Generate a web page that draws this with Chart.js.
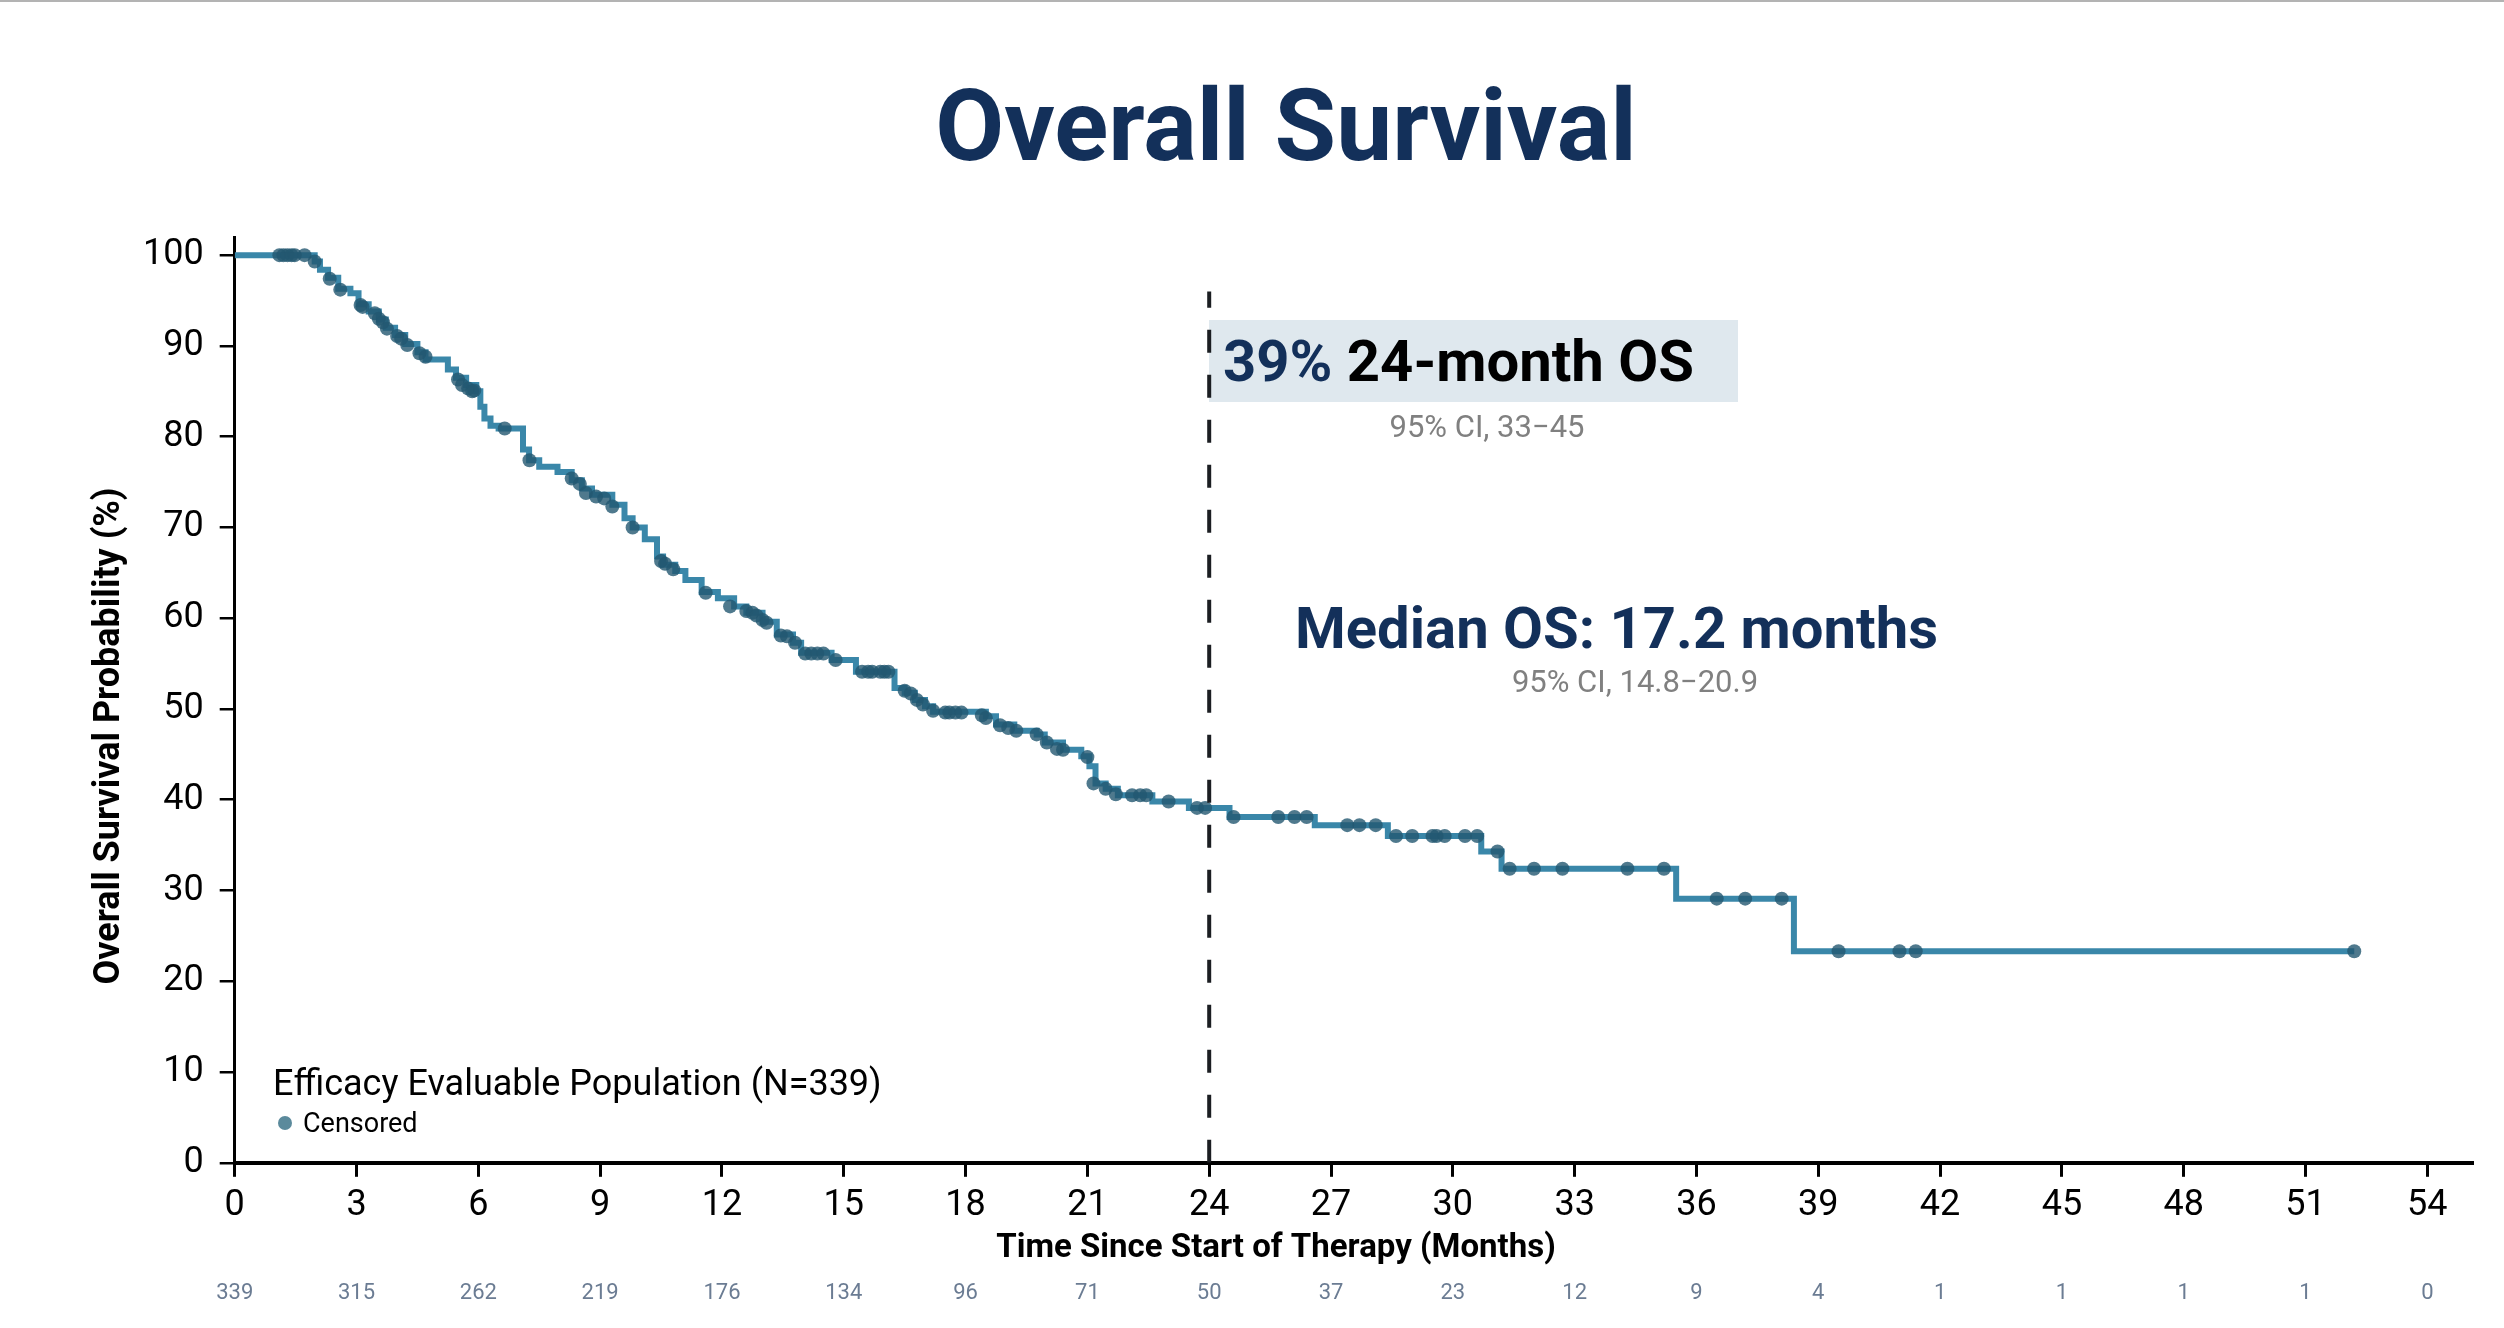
<!DOCTYPE html>
<html lang="en">
<head>
  <meta charset="UTF-8" />
  <title>Overall Survival</title>
  <script src="https://cdn.jsdelivr.net/npm/chart.js"></script>
  <style>
    html, body { margin: 0; padding: 0; background: #fff; }
    .wrap { position: relative; width: 2504px; height: 1328px; }
    .topline { position: absolute; left: 0; top: 0; width: 100%; height: 2px; background: #b3b3b3; }
  </style>
</head>
<body>
  <div class="wrap">
    <canvas id="osChart"></canvas>
    <div class="topline"></div>
  </div>

  <script>
    // Kaplan-Meier step points (months, % surviving after the drop)
    const stepTimes = [0, 1.97, 2.1, 2.3, 2.55, 2.85, 3.05, 3.3, 3.55, 3.72, 3.95, 4.2, 4.5, 4.7, 5.25, 5.45, 5.7, 5.95,
      6.05, 6.15, 6.3, 6.5, 7.1, 7.25, 7.5, 7.95, 8.3, 8.55, 8.8, 9.3, 9.6, 9.8, 10.1, 10.4, 10.55, 10.85, 11.1, 11.5,
      11.9, 12.3, 12.6, 13.0, 13.35, 13.75, 13.95, 14.7, 15.3, 16.25, 16.5, 16.75, 17.0, 17.2, 18.5, 18.75, 19.2, 19.75,
      19.95, 20.4, 20.85, 21.05, 21.2, 21.45, 21.75, 22.6, 23.5, 24.5, 26.6, 28.4, 30.7, 31.2, 35.5, 38.4, 52.2];
    const stepSurv = [100, 99.3, 98.4, 97.5, 96.3, 95.8, 94.6, 93.8, 92.9, 92.0, 91.2, 90.2, 89.3, 88.5, 87.4, 86.5, 85.7, 85.0,
      83.3, 82.0, 81.2, 80.9, 78.6, 77.4, 76.7, 76.1, 75.2, 74.3, 73.6, 72.5, 71.0, 70.0, 68.7, 66.8, 65.9, 65.2, 64.2, 62.9,
      62.2, 61.3, 60.6, 59.6, 58.2, 57.3, 56.2, 55.4, 54.1, 52.3, 51.8, 51.0, 50.3, 49.7, 49.2, 48.3, 47.6, 47.2,
      46.3, 45.5, 44.8, 43.7, 41.8, 41.2, 40.5, 39.8, 39.1, 38.1, 37.2, 36.0, 34.3, 32.4, 29.1, 23.3, 23.3];

    // censored observations
    const censorTimes = [1.1, 1.2, 1.3, 1.4, 1.48, 1.72, 1.97, 2.34, 2.6, 3.1, 3.15, 3.45, 3.55, 3.65, 3.75, 4.0, 4.1, 4.25,
      4.55, 4.7, 5.5, 5.6, 5.75, 5.85, 5.9, 6.65, 7.26, 8.3, 8.5, 8.65, 8.9, 9.1, 9.3, 9.8, 10.5, 10.6, 10.8, 11.6, 12.2,
      12.6, 12.75, 12.85, 13.0, 13.1, 13.45, 13.6, 13.8, 14.05, 14.2, 14.35, 14.5, 14.8, 15.45, 15.6, 15.7, 15.9, 16.0,
      16.1, 16.5, 16.65, 16.8, 16.95, 17.2, 17.5, 17.6, 17.75, 17.9, 18.4, 18.5, 18.85, 19.05, 19.25, 19.75, 20.0, 20.25,
      20.4, 21.0, 21.15, 21.45, 21.7, 22.1, 22.3, 22.45, 23.0, 23.7, 23.9, 24.6, 25.7, 26.1, 26.4, 27.4, 27.7, 28.1, 28.6,
      29.0, 29.5, 29.6, 29.8, 30.3, 30.6, 31.1, 31.4, 32.0, 32.7, 34.3, 35.2, 36.5, 37.2, 38.1, 39.5, 41.0, 41.4, 52.2];
    const censorSurv = [100, 100, 100, 100, 100, 100, 99.3, 97.4, 96.2, 94.5, 94.3, 93.6, 93.0, 92.6, 91.9, 91.1, 90.8, 90.1,
      89.2, 88.8, 86.3, 85.7, 85.3, 85.0, 85.1, 80.9, 77.4, 75.4, 74.8, 73.8, 73.4, 73.2, 72.3, 70.0, 66.3, 66.0, 65.4, 62.8, 61.3,
      60.8, 60.6, 60.3, 59.8, 59.5, 58.1, 58.0, 57.3, 56.1, 56.1, 56.1, 56.1, 55.4, 54.1, 54.1, 54.1, 54.1, 54.1,
      54.1, 52.0, 51.7, 51.0, 50.5, 49.8, 49.6, 49.6, 49.6, 49.6, 49.3, 49.0, 48.2, 47.9, 47.6, 47.2, 46.3, 45.6,
      45.5, 44.7, 41.8, 41.2, 40.6, 40.5, 40.5, 40.5, 39.8, 39.1, 39.1, 38.1, 38.1, 38.1, 38.1, 37.2, 37.2, 37.2, 36.0,
      36.0, 36.0, 36.0, 36.0, 36.0, 36.0, 34.3, 32.4, 32.4, 32.4, 32.4, 32.4, 29.1, 29.1, 29.1, 23.3, 23.3, 23.3, 23.3];

    // axis ticks and number at risk
    const xTickValues = [0, 3, 6, 9, 12, 15, 18, 21, 24, 27, 30, 33, 36, 39, 42, 45, 48, 51, 54];
    const yTickValues = [0, 10, 20, 30, 40, 50, 60, 70, 80, 90, 100];
    const atRisk = [339, 315, 262, 219, 176, 134, 96, 71, 50, 37, 23, 12, 9, 4, 1, 1, 1, 1, 0];

    const landmarkMonth = 24;
    const landmarkTop = 96;

    const NAVY = '#13305a';
    const GREY = '#808080';

    Chart.defaults.font.family = 'Roboto, "Noto Sans", sans-serif';
    Chart.defaults.color = '#000';

    const extras = {
      id: 'extras',
      beforeDatasetsDraw(chart) {
        const ctx = chart.ctx;
        ctx.save();
        ctx.fillStyle = '#dfe8ee';
        ctx.fillRect(1209, 320, 529, 82);
        ctx.restore();
      },
      afterDraw(chart) {
        const ctx = chart.ctx;
        const xs = chart.scales.x;
        ctx.save();

        // chart title
        ctx.font = 'bold 100px Roboto';
        ctx.fillStyle = NAVY;
        ctx.textAlign = 'center';
        ctx.textBaseline = 'alphabetic';
        ctx.fillText('Overall Survival', 1286, 160);

        // y axis title
        ctx.save();
        ctx.translate(110, 736);
        ctx.rotate(-Math.PI / 2);
        ctx.font = 'bold 36px Roboto';
        ctx.fillStyle = '#000';
        ctx.textAlign = 'center';
        ctx.textBaseline = 'middle';
        ctx.fillText('Overall Survival Probability (%)', 0, 0);
        ctx.restore();

        // x axis title
        ctx.font = 'bold 33px Roboto';
        ctx.fillStyle = '#000';
        ctx.textAlign = 'center';
        ctx.textBaseline = 'middle';
        ctx.fillText('Time Since Start of Therapy (Months)', 1276, 1249);

        // number at risk
        ctx.font = '22px Roboto';
        ctx.fillStyle = '#6b7c93';
        ctx.textBaseline = 'alphabetic';
        xTickValues.forEach((t, i) => {
          ctx.fillText(String(atRisk[i]), xs.getPixelForValue(t), 1299);
        });

        // 24-month landmark
        ctx.textAlign = 'left';
        ctx.font = 'bold 58px Roboto';
        ctx.fillStyle = NAVY;
        ctx.fillText('39%', 1223, 381);
        const w = ctx.measureText('39% ').width;
        ctx.fillStyle = '#000';
        ctx.fillText('24-month OS', 1223 + w, 381);

        ctx.textAlign = 'center';
        ctx.font = '31px Roboto';
        ctx.fillStyle = GREY;
        ctx.fillText('95% CI, 33\u221245', 1487, 437);

        // median
        ctx.textAlign = 'left';
        ctx.font = 'bold 58px Roboto';
        ctx.fillStyle = NAVY;
        ctx.fillText('Median OS: 17.2 months', 1295, 648);

        ctx.textAlign = 'center';
        ctx.font = '31px Roboto';
        ctx.fillStyle = GREY;
        ctx.fillText('95% CI, 14.8\u221220.9', 1635, 692);

        // legend
        ctx.textAlign = 'left';
        ctx.font = '36px Roboto';
        ctx.fillStyle = '#000';
        ctx.fillText('Efficacy Evaluable Population (N=339)', 273, 1095);
        ctx.beginPath();
        ctx.arc(285, 1123, 7, 0, Math.PI * 2);
        ctx.fillStyle = '#5b8a9c';
        ctx.fill();
        ctx.font = '27px Roboto';
        ctx.fillStyle = '#000';
        ctx.fillText('Censored', 303, 1132);

        ctx.restore();
      }
    };

    new Chart(document.getElementById('osChart'), {
      type: 'line',
      data: {
        datasets: [
          {
            label: 'Overall survival',
            data: stepTimes.map((t, i) => ({ x: t, y: stepSurv[i] })),
            stepped: 'before',
            borderColor: '#3a87a9',
            borderWidth: 6,
            pointRadius: 0,
            fill: false,
            order: 2
          },
          {
            label: 'Censored',
            data: censorTimes.map((t, i) => ({ x: t, y: censorSurv[i] })),
            showLine: false,
            pointRadius: 7,
            pointBackgroundColor: 'rgba(35, 88, 112, 0.8)',
            pointBorderWidth: 0,
            order: 1
          },
          {
            label: '24 months',
            data: [{ x: landmarkMonth, y: 0 }, { x: landmarkMonth, y: landmarkTop }],
            borderColor: '#1b1e22',
            borderWidth: 4,
            borderDash: [23, 22],
            pointRadius: 0,
            order: 0
          }
        ]
      },
      options: {
        responsive: true,
        maintainAspectRatio: false,
        animation: false,
        events: [],
        layout: { padding: { left: 127, right: 32, top: 237, bottom: 92 } },
        plugins: {
          legend: { display: false },
          tooltip: { enabled: false },
          title: { display: false }
        },
        scales: {
          x: {
            type: 'linear',
            min: 0,
            max: 55.1,
            afterBuildTicks: axis => { axis.ticks = xTickValues.map(v => ({ value: v })); },
            ticks: { font: { size: 36 }, color: '#000', padding: 8, maxRotation: 0, autoSkip: false },
            grid: { drawOnChartArea: false, drawTicks: true, tickLength: 14, color: '#000', lineWidth: 3 },
            border: { display: true, color: '#000', width: 4 }
          },
          y: {
            min: 0,
            max: 102,
            afterBuildTicks: axis => { axis.ticks = yTickValues.map(v => ({ value: v })); },
            ticks: { font: { size: 36 }, color: '#000', padding: 16, autoSkip: false },
            grid: { drawOnChartArea: false, drawTicks: true, tickLength: 15, color: '#000', lineWidth: 2.5 },
            border: { display: true, color: '#000', width: 3 }
          }
        }
      },
      plugins: [extras]
    });
  </script>
</body>
</html>
